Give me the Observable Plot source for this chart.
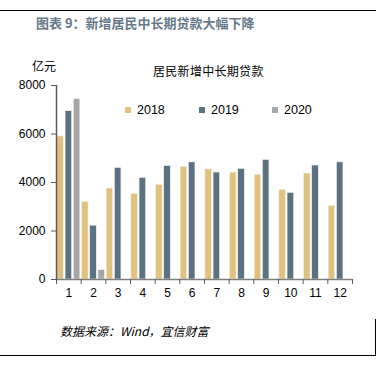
<!DOCTYPE html>
<html>
<head>
<meta charset="utf-8">
<script src="https://cdn.jsdelivr.net/npm/d3@7"></script>
<script src="https://cdn.jsdelivr.net/npm/@observablehq/plot@0.6"></script>
<style>
  body { margin: 0; background: #fff; }
  #wrap { position: relative; width: 384px; height: 368px; overflow: hidden; font-family: "Liberation Sans", Arial, "Noto Sans CJK SC", sans-serif; }
  .abs { position: absolute; white-space: nowrap; }
  #chart { position: absolute; left: 0; top: 60px; }
  .leg { position: absolute; top: 103px; font-size: 12.5px; color: #000; display: flex; align-items: center; }
  .sw { display: inline-block; width: 6px; height: 6px; margin-right: 6px; }
</style>
</head>
<body>
<div id="wrap">
  <div class="abs" style="left:0;top:10px;width:376px;border-top:1px solid #000;"></div>
  <div class="abs" style="left:36px;top:13px;font-size:13px;font-weight:bold;color:#66798a;font-family:'Noto Sans CJK SC',sans-serif;">图表 9：新增居民中长期贷款大幅下降</div>
  <div class="abs" style="left:32px;top:57px;font-size:12px;font-family:'Noto Sans CJK SC',sans-serif;">亿元</div>
  <div class="abs" style="left:153px;top:62px;font-size:12px;font-family:'Noto Sans CJK SC',sans-serif;letter-spacing:0.3px;">居民新增中长期贷款</div>
  <div id="chart"></div>
  <div id="legend"></div>
  <div class="abs" style="left:60px;top:322px;font-size:12px;font-style:italic;font-family:'Noto Sans CJK SC',sans-serif;">数据来源：Wind，宜信财富</div>
  <div class="abs" style="left:0;top:355px;width:376px;border-top:1px solid #000;"></div>
  <div class="abs" style="left:375px;top:319px;height:37px;border-left:1px solid #000;"></div>
</div>
<script>
const months = [1,2,3,4,5,6,7,8,9,10,11,12];
const years = ["2018","2019","2020"];
const values2018 = [5900,3200,3750,3530,3900,4650,4540,4410,4320,3700,4370,3040];
const values2019 = [6940,2220,4600,4190,4680,4830,4410,4560,4930,3570,4700,4830];
const values2020 = [7440,390,null,null,null,null,null,null,null,null,null,null];
const colors = ["#dfc27e","#5c7280","#a6a6a6"];
const yTicks = [0,2000,4000,6000,8000];

const series = {"2018": values2018, "2019": values2019, "2020": values2020};
const data = [];
const keys = [];
months.forEach((m, i) => {
  years.forEach(y => {
    const k = m + "-" + y;
    keys.push(k);
    const v = series[y][i];
    if (v != null) data.push({key: k, month: m, year: y, value: v});
  });
});

const W = 384, H = 240, mL = 56, mR = 32, mT = 25, mB = 21;
const step = (W - mL - mR) / keys.length;

const plot = Plot.plot({
  width: W, height: H,
  marginLeft: mL, marginRight: mR, marginTop: mT, marginBottom: mB,
  style: {fontFamily: "'Liberation Sans', Arial, sans-serif", fontSize: "12px", color: "#000", background: "transparent"},
  x: {type: "band", domain: keys, padding: 0.2, paddingOuter: 0.1, round: false, axis: null, label: null},
  y: {domain: [0, 8000], axis: null, label: null},
  color: {domain: years, range: colors},
  marks: [
    Plot.barY(data, {x: "key", y: "value", fill: "year", stroke: "#f2f2f2", strokeWidth: 0.6}),
    Plot.ruleY([0], {stroke: "#7f7f7f", strokeWidth: 1.5}),
    Plot.ruleX([keys[0]], {y1: 0, y2: 8000, dx: -step/2, stroke: "#595959", strokeWidth: 1.5}),
    Plot.axisY({ticks: yTicks, tickSize: 5, tickPadding: 6, tickFormat: d => String(d), stroke: "#595959", fill: "#000", fontSize: 12, label: null}),
    Plot.axisX({ticks: keys.filter(k => k.endsWith("-2020")), tickSize: 5, tickFormat: () => "", dx: step/2, stroke: "#595959", label: null}),
    Plot.axisX({ticks: [keys[0]], tickSize: 5, tickFormat: () => "", dx: -step/2, stroke: "#595959", label: null}),
    Plot.axisX({ticks: keys.filter(k => k.endsWith("-2019")), tickSize: 0, tickPadding: 9, tickFormat: k => k.split("-")[0], fill: "#000", fontSize: 12, label: null})
  ]
});
document.getElementById("chart").appendChild(plot);

const legendX = [125, 199, 272];
const legend = document.getElementById("legend");
years.forEach((y, i) => {
  const d = document.createElement("div");
  d.className = "leg";
  d.style.left = legendX[i] + "px";
  d.innerHTML = `<span class="sw" style="background:${colors[i]}"></span>${y}`;
  legend.appendChild(d);
});
</script>
</body>
</html>
